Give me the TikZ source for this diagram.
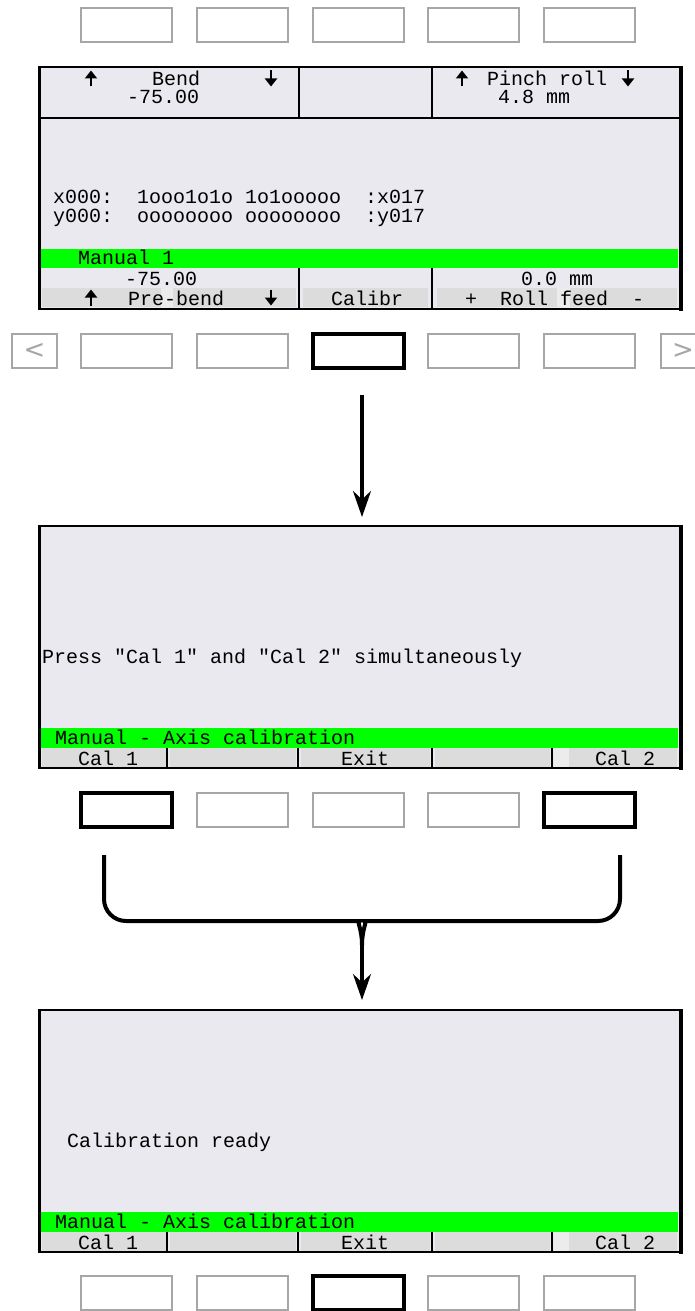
\documentclass[tikz,border=0pt]{standalone}
\usepackage{fontspec}
\newfontfamily\lcdfont{Liberation Mono}
\newfontfamily\symfont{DejaVu Sans}
\usetikzlibrary{arrows.meta}

\definecolor{lcdbg}{HTML}{EAE9EF}
\definecolor{softkey}{HTML}{DCDCDC}
\definecolor{softgap}{HTML}{ECECEC}
\definecolor{statusgreen}{HTML}{00FF00}
\definecolor{keygray}{HTML}{A6A6A6}

\tikzset{
  uparr/.pic={\draw[line width=2.7pt, -{Triangle[length=8pt,width=12pt]}] (0,0.5) -- (0,-15.5);},
  downarr/.pic={\draw[line width=2.7pt, -{Triangle[length=8pt,width=12pt]}] (0,-15.5) -- (0,0.5);},
}

\begin{document}
\begin{tikzpicture}[x=1pt,y=-1pt,
  key/.style={draw=keygray, line width=2pt, fill=white, minimum width=91pt,
    minimum height=34pt, inner sep=0pt},
  keyon/.style={key, draw=black, line width=4pt},
  navkey/.style={key, minimum width=45pt, text=keygray,
    font=\symfont\fontsize{26}{26}\selectfont},
  screen/.style={draw=black, line width=2.5pt, fill=lcdbg, minimum width=641pt,
    minimum height=242pt, inner sep=0pt},
  txt/.style={font=\lcdfont\fontsize{20}{20}\selectfont, inner sep=0pt, anchor=base west},
  divider/.style={line width=1.5pt},
  conn/.style={line width=3.5pt, -{Stealth[length=26pt,width=18pt]}},
  brace/.style={line width=4pt, rounded corners=22pt},
]
\useasboundingbox (0,0) rectangle (695,1311);

% ---------- row of soft keys above the first screen
\foreach \i/\x in {1/126.5,2/242.5,3/358.5,4/473.5,5/589.5}
  \node[key] (kA\i) at (\x,25) {};

% ---------- screen 1: manual mode
\node[screen] (scrA) at (360,188) {};
\fill[statusgreen] (41,249) rectangle (678,268);
\fill[softkey] (42,288) rectangle (296,307);
\fill[softgap] (161,288) rectangle (173,307);
\fill[softkey] (303,288) rectangle (428,307);
\fill[softkey] (437,288) rectangle (677,307);
\fill[softgap] (557,288) rectangle (570,307);
\draw[line width=1.5pt] (40,118) -- (679,118);
\draw[divider] (299,67) -- (299,118);
\draw[divider] (432,67) -- (432,118);
\draw[divider] (299,268) -- (299,308);
\draw[divider] (432,268) -- (432,308);
\draw[line width=3.5pt] (681,66) -- (681,310.5);

\pic (hA1) at (91,86) {uparr};
\node[txt] (hA2) at (152,86) {Bend};
\pic (hA3) at (271,86) {downarr};
\node[txt] (hA4) at (127,104) {-75.00};
\pic (hA5) at (462,86) {uparr};
\node[txt] (hA6) at (487,86) {Pinch roll};
\pic (hA7) at (628,86) {downarr};
\node[txt] (hA8) at (498,104) {4.8 mm};
\node[txt] (bA1) at (53,203) {x000:\ \ 1ooo1o1o 1o1ooooo\ \ :x017};
\node[txt] (bA2) at (53,222) {y000:\ \ oooooooo oooooooo\ \ :y017};
\node[txt] (sA) at (78,264) {Manual 1};
\node[txt] (vA1) at (125,285) {-75.00};
\node[txt] (vA2) at (521,285) {0.0 mm};
\pic (lA1) at (91,305) {uparr};
\node[txt] (lA2) at (128,305) {Pre-bend};
\pic (lA3) at (271,305) {downarr};
\node[txt] (lA4) at (331,305) {Calibr};
\node[txt, anchor=base] (lA5) at (471,305) {+};
\node[txt] (lA6) at (500,305) {Roll feed};
\node[txt, anchor=base] (lA7) at (638,305) {-};

% ---------- soft keys below the first screen
\node[navkey] (kBl) at (34.5,350.5) {<};
\foreach \i/\x in {1/126.5,2/242.5,4/473.5,5/589.5}
  \node[key] (kB\i) at (\x,350.5) {};
\node[keyon] (kB3) at (358.5,350.5) {};
\node[navkey] (kBr) at (683,350.5) {>};

\coordinate (aEnd) at (362,526);
\draw[conn, shorten <=25pt, shorten >=9pt] (kB3.south -| aEnd) -- (aEnd);

% ---------- screen 2: axis calibration
\node[screen] (scrB) at (360,647) {};
\fill[statusgreen] (41,728) rectangle (678,748);
\fill[softkey] (42,748) rectangle (166,767);
\fill[softkey] (170,748) rectangle (296,767);
\fill[softkey] (301,748) rectangle (430,767);
\fill[softkey] (435,748) rectangle (550,767);
\fill[softkey] (554,748) rectangle (677,767);
\fill[softgap] (554,748) rectangle (569,767);
\foreach \x in {167,298,432,552} \draw[divider] (\x,748) -- (\x,767);
\draw[line width=3.5pt] (681,525) -- (681,769.5);
\node[txt] (pB) at (42,663) {Press "Cal 1" and "Cal 2" simultaneously};
\node[txt] (sB) at (55,744) {Manual - Axis calibration};
\node[txt] (lB1) at (78,765) {Cal 1};
\node[txt] (lB2) at (341,765) {Exit};
\node[txt] (lB3) at (595,765) {Cal 2};

% ---------- soft keys below the second screen
\node[keyon] (kC1) at (126.5,810) {};
\foreach \i/\x in {2/242.5,3/358.5,4/473.5}
  \node[key] (kC\i) at (\x,810) {};
\node[keyon] (kC5) at (589.5,810) {};

% both keys together lead to the next screen
\coordinate (join) at (362,921);
\coordinate (joinB) at (362,945);
\draw[brace] ([xshift=-22.5pt,yshift=-26pt]kC1.south) |- (338,921)
  .. controls (356,921) and (362,928) .. (joinB);
\draw[brace] ([xshift=30.5pt,yshift=-26pt]kC5.south) |- (386,921)
  .. controls (368,921) and (362,928) .. (joinB);
\draw[conn, shorten >=10pt] (joinB) -- (362,1010);

% ---------- screen 3: calibration done
\node[screen] (scrC) at (360,1131) {};
\fill[statusgreen] (41,1212) rectangle (678,1232);
\fill[softkey] (42,1232) rectangle (166,1251);
\fill[softkey] (170,1232) rectangle (296,1251);
\fill[softkey] (301,1232) rectangle (430,1251);
\fill[softkey] (435,1232) rectangle (550,1251);
\fill[softkey] (554,1232) rectangle (677,1251);
\fill[softgap] (554,1232) rectangle (569,1251);
\foreach \x in {167,298,432,552} \draw[divider] (\x,1232) -- (\x,1251);
\draw[line width=3.5pt] (681,1009) -- (681,1253.5);
\node[txt] (pC) at (67,1147) {Calibration ready};
\node[txt] (sC) at (55,1228) {Manual - Axis calibration};
\node[txt] (lC1) at (78,1249) {Cal 1};
\node[txt] (lC2) at (341,1249) {Exit};
\node[txt] (lC3) at (595,1249) {Cal 2};

% ---------- soft keys below the third screen
\foreach \i/\x in {1/126.5,2/242.5,4/473.5,5/589.5}
  \node[key] (kD\i) at (\x,1293) {};
\node[keyon] (kD3) at (358.5,1293) {};
\end{tikzpicture}
\end{document}
